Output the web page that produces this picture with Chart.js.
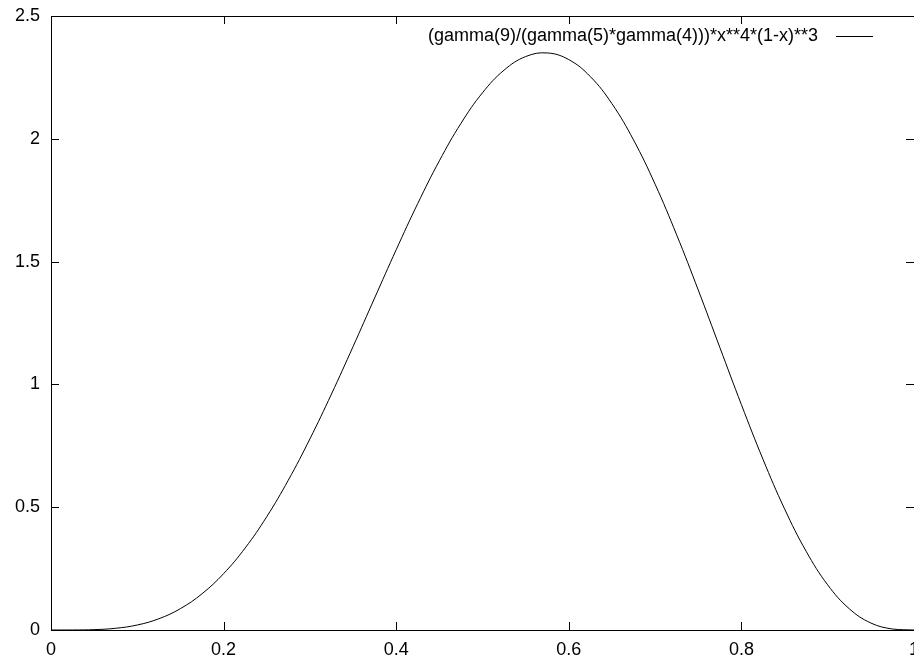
<!DOCTYPE html>
<html>
<head>
<meta charset="utf-8">
<script src="https://cdn.jsdelivr.net/npm/chart.js@4/dist/chart.umd.min.js"></script>
<style>
  html, body { margin: 0; padding: 0; background: #fff; }
  #wrap { width: 914px; height: 659px; }
</style>
</head>
<body>
<div id="wrap"><canvas id="chart" width="914" height="659"></canvas></div>
<script>
// values
var xValues = [0, 0.025, 0.05, 0.075, 0.1, 0.125, 0.15, 0.175, 0.2, 0.225, 0.25, 0.275, 0.3, 0.325, 0.35, 0.375, 0.4, 0.425, 0.45, 0.475, 0.5,
               0.525, 0.55, 0.575, 0.6, 0.625, 0.65, 0.675, 0.7, 0.725, 0.75, 0.775, 0.8, 0.825, 0.85, 0.875, 0.9, 0.925, 0.95, 0.975, 1];
var yValues = [0, 0.0001, 0.0015, 0.0070, 0.0204, 0.0458, 0.0871, 0.1475, 0.2294, 0.3340, 0.4614, 0.6102, 0.7779, 0.9608, 1.1539, 1.3518, 1.5483, 1.7367, 1.9103, 2.0626, 2.1875,
               2.2796, 2.3348, 2.3496, 2.3224, 2.2531, 2.1430, 1.9953, 1.8152, 1.6088, 1.3843, 1.1506, 0.9175, 0.6952, 0.4933, 0.3206, 0.1837, 0.0865, 0.0285, 0.0040, 0];
var xTicks = [0, 0.2, 0.4, 0.6, 0.8, 1];
var yTicks = [0, 0.5, 1, 1.5, 2, 2.5];
var seriesLabel = '(gamma(9)/(gamma(5)*gamma(4)))*x**4*(1-x)**3';

var FAMILY = '"Liberation Sans", Arial, sans-serif';

//Draw the box, the inward tick marks on all four sides and the key
var framePlugin = {
    id: 'frame',
    afterDatasetsDraw: function(chart) {
        var ctx = chart.ctx;
        var a = chart.chartArea;
        var xs = chart.scales.x, ys = chart.scales.y;
        var t = 8;
        ctx.save();
        ctx.strokeStyle = '#000';
        ctx.lineWidth = 1;
        ctx.beginPath();
        xTicks.forEach(function(v) {
            var px = Math.round(xs.getPixelForValue(v)) + 0.5;
            ctx.moveTo(px, a.bottom); ctx.lineTo(px, a.bottom - t);
            ctx.moveTo(px, a.top); ctx.lineTo(px, a.top + t);
        });
        yTicks.forEach(function(v) {
            var py = Math.round(ys.getPixelForValue(v)) + 0.5;
            ctx.moveTo(a.left, py); ctx.lineTo(a.left + t, py);
            ctx.moveTo(a.right, py); ctx.lineTo(a.right - t, py);
        });
        ctx.stroke();
        ctx.strokeRect(Math.round(a.left) + 0.5, Math.round(a.top) + 0.5,
                       Math.round(a.right - a.left), Math.round(a.bottom - a.top));

        // key, top right inside the box
        ctx.fillStyle = '#000';
        ctx.font = '18px ' + FAMILY;
        ctx.textAlign = 'right';
        ctx.textBaseline = 'middle';
        ctx.fillText(seriesLabel, 818, 36);
        ctx.beginPath();
        ctx.moveTo(836, 36.5); ctx.lineTo(873, 36.5);
        ctx.stroke();
        ctx.restore();
    }
};

new Chart(document.getElementById('chart'), {
    type: 'line',
    data: {
        datasets: [{
            label: seriesLabel,
            data: xValues.map(function(x, i) { return { x: x, y: yValues[i] }; }),
            borderColor: '#000',
            borderWidth: 1,
            pointRadius: 0,
            fill: false,
            tension: 0.4
        }]
    },
    options: {
        responsive: false,
        animation: false,
        // the plot box runs a little past the right edge of the window
        layout: { padding: { top: 16, right: -2, left: 0, bottom: 0 } },
        plugins: { legend: { display: false }, tooltip: { enabled: false } },
        scales: {
            x: {
                type: 'linear', min: 0, max: 1,
                grid: { display: false, drawTicks: false },
                border: { display: false },
                afterBuildTicks: function(s) { s.ticks = xTicks.map(function(v) { return { value: v }; }); },
                afterFit: function(s) { s.height = 29; s.paddingLeft = 0; s.paddingRight = 0; },
                ticks: {
                    color: '#000', padding: 9, maxRotation: 0, autoSkip: false,
                    font: { family: FAMILY, size: 18 },
                    callback: function(v) { return String(v); }
                }
            },
            y: {
                type: 'linear', min: 0, max: 2.5,
                grid: { display: false, drawTicks: false },
                border: { display: false },
                afterBuildTicks: function(s) { s.ticks = yTicks.map(function(v) { return { value: v }; }); },
                afterFit: function(s) { s.width = 51; s.paddingTop = 0; s.paddingBottom = 0; },
                ticks: {
                    color: '#000', padding: 11, autoSkip: false,
                    font: { family: FAMILY, size: 18 },
                    callback: function(v) { return String(v); }
                }
            }
        }
    },
    plugins: [framePlugin]
});
</script>
</body>
</html>
